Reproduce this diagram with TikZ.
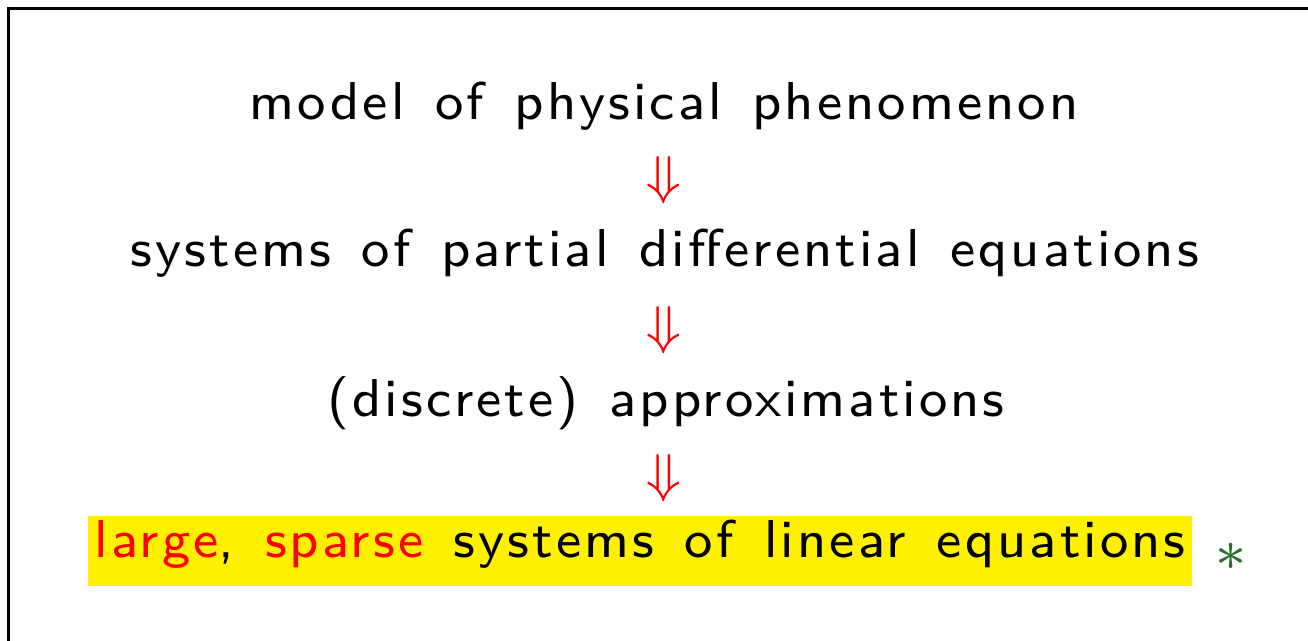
\documentclass[tikz,border=0pt]{standalone}
\usepackage{amsmath,amssymb}
\usepackage{fontspec}
\newfontfamily\slidesans{lmsans8-regular.otf}[LetterSpace=5.8, WordSpace=1.4]

\definecolor{hilite}{RGB}{255,240,0}
\definecolor{stargreen}{RGB}{40,110,40}

\tikzset{
  stage/.style={font=\slidesans\fontsize{8}{10}\selectfont, scale=3.33, transform shape, anchor=base, inner sep=0pt},
  implies/.style={text=red, font=\fontsize{8}{10}\selectfont, scale=3.33, transform shape, inner sep=0pt},
}

\begin{document}
\begin{tikzpicture}[x=0.5pt, y=-0.5pt]
  \useasboundingbox (0,0) rectangle (1308,641);
  \clip (0,0) rectangle (1308,641);
  \draw[line width=1.5pt] (8,9) rectangle (1340,680);

  \node[stage] (model) at (664,120) {model of physical phenomenon};
  \node[implies] (d1) at (664,180) {$\Downarrow$};
  \node[stage] (pde) at (665,267) {systems of partial differential equations};
  \node[implies] (d2) at (664,330) {$\Downarrow$};
  \node[stage] (approx) at (666,417) {(discrete) approximations};
  \node[implies] (d3) at (664,478) {$\Downarrow$};
  \node[stage, fill=hilite, text height=6.3pt, text depth=4.2pt, inner xsep=0.9pt] (linsys) at (640,558)
    {\textcolor{red}{large}, \textcolor{red}{sparse} systems of linear equations};
  \node[implies, text=stargreen, scale=1.1] (star) at (1231,557) {$*$};
\end{tikzpicture}
\end{document}
